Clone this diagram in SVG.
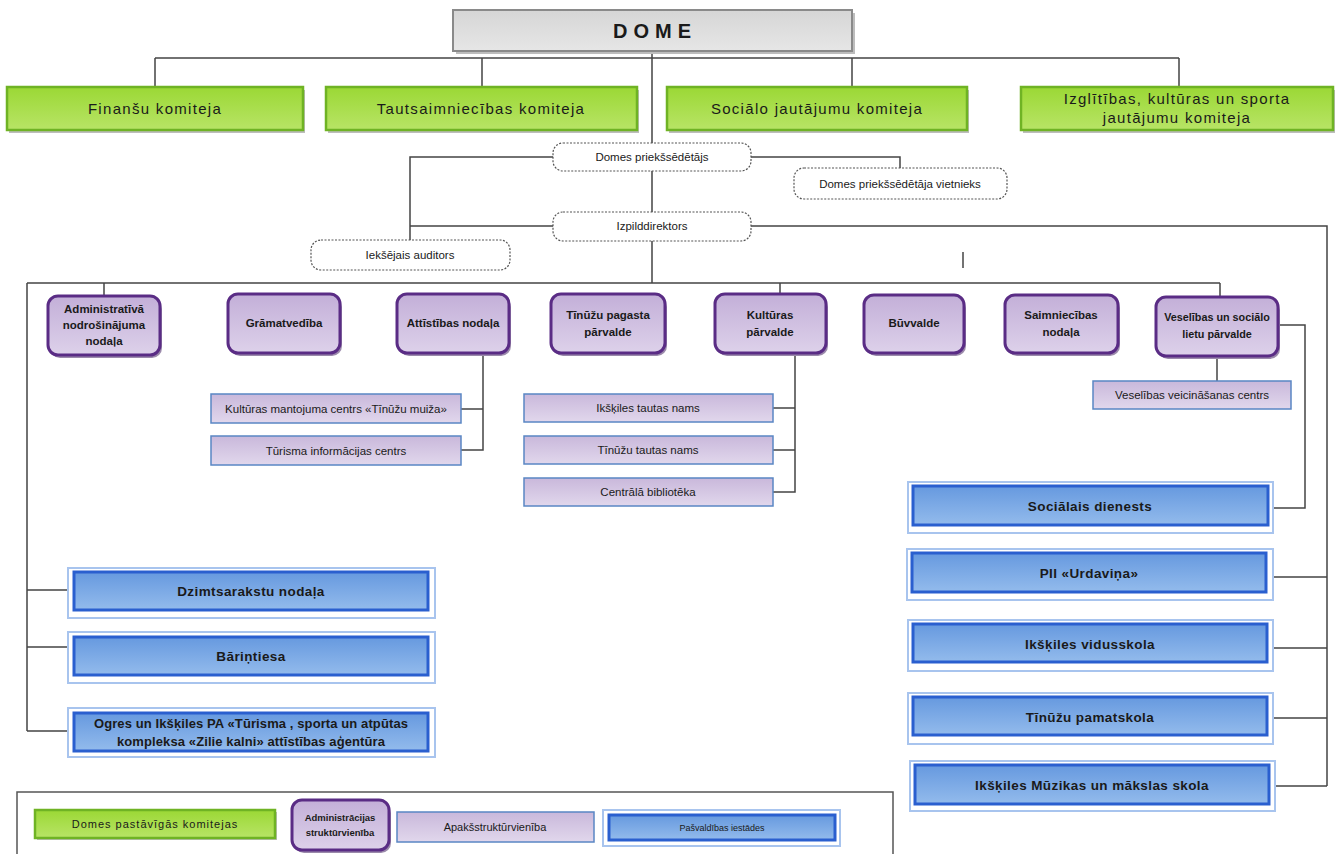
<svg xmlns="http://www.w3.org/2000/svg" width="1342" height="854" viewBox="0 0 1342 854">
<defs>
<linearGradient id="gGreen" x1="0" y1="0" x2="0" y2="1"><stop offset="0" stop-color="#9bd835"/><stop offset="1" stop-color="#b8e466"/></linearGradient>
<linearGradient id="gGrey" x1="0" y1="0" x2="0" y2="1"><stop offset="0" stop-color="#d6d6d6"/><stop offset="1" stop-color="#e6e6e6"/></linearGradient>
<linearGradient id="gPurple" x1="0" y1="0" x2="0" y2="1"><stop offset="0" stop-color="#c3afd8"/><stop offset="1" stop-color="#ddd1ea"/></linearGradient>
<linearGradient id="gSub" x1="0" y1="0" x2="0" y2="1"><stop offset="0" stop-color="#c9b8db"/><stop offset="1" stop-color="#e1d7ec"/></linearGradient>
<linearGradient id="gBlue" x1="0" y1="0" x2="0" y2="1"><stop offset="0" stop-color="#6699df"/><stop offset="1" stop-color="#93bbec"/></linearGradient>
<style>
.t{font-family:"Liberation Sans",Arial,sans-serif;fill:#1a1a1a;text-anchor:middle;dominant-baseline:central}
.dome{font-size:20px;font-weight:bold;letter-spacing:6px}
.com{font-size:15px;letter-spacing:1.3px}
.dash{font-size:11.5px}
.pur{font-size:11.5px;font-weight:bold}
.pur.sm{font-size:10.8px}
.sub{font-size:11.5px}
.blu{font-size:13.5px;font-weight:bold;letter-spacing:0.4px}
.blu.sm{font-size:13px;letter-spacing:0.1px}
.grey{fill:url(#gGrey);stroke:#8a8a8a;stroke-width:2}
.green{fill:url(#gGreen);stroke:#6fb324;stroke-width:2.5}
.shadow{fill:#bdbdbd}
.dbox{fill:#fff;stroke:#555;stroke-width:1.2;stroke-dasharray:2 1.5}
.pbox{fill:url(#gPurple);stroke:#5a2c85;stroke-width:3}
.pshadow{fill:#9b8aab}
.sbox{fill:url(#gSub);stroke:#5a86c4;stroke-width:1.5}
.bout{fill:#fff;stroke:#a8c4ee;stroke-width:2}
.bin{fill:url(#gBlue);stroke:#2a5fcf;stroke-width:3}
.ln{fill:none;stroke:#444;stroke-width:1.5}
</style>
</defs>

<g id="connectors">
<path class="ln" d="M652 51 V143 M155 58 H1179 M155 58 V87 M482 58 V87 M852 58 V87 M1179 58 V87"/>
<path class="ln" d="M553 157 H410 V240 M553 226 H410 M751 157 H900 V168"/>
<path class="ln" d="M652 171 V212 M652 241 V283"/>
<path class="ln" d="M751 226 H1327 V786 M1275 786 H1327 M1273 718 H1327 M1273 648 H1327 M1273 577 H1327"/>
<path class="ln" d="M963 252 V268"/>
<path class="ln" d="M27 283 H1220 M104 283 V296 M780 283 V294 M1220 283 V297"/>
<path class="ln" d="M27 283 V731 M27 590 H68 M27 647 H68 M27 731 H68"/>
<path class="ln" d="M483 353 V450 H461 M483 409 H461"/>
<path class="ln" d="M795 353 V492 H773 M795 408 H773 M795 450 H773"/>
<path class="ln" d="M1217 356 V381"/>
<path class="ln" d="M1278 325 H1305 V508 H1273"/>
</g>

<g id="dome">
<rect class="shadow" x="456" y="13" width="399" height="41"/>
<rect class="grey" x="453" y="10" width="399" height="41"/>
<text class="t dome" x="655" y="31">DOME</text>
</g>

<g id="kom-finansu">
<rect class="shadow" x="9" y="90" width="296" height="43"/>
<rect class="green" x="7" y="87" width="296" height="43"/>
<text class="t com" x="155" y="108">Finanšu komiteja</text>
</g>
<g id="kom-tautsaimn">
<rect class="shadow" x="328" y="90" width="311" height="43"/>
<rect class="green" x="326" y="87" width="311" height="43"/>
<text class="t com" x="481" y="108">Tautsaimniecības komiteja</text>
</g>
<g id="kom-social">
<rect class="shadow" x="669" y="90" width="300" height="43"/>
<rect class="green" x="667" y="87" width="300" height="43"/>
<text class="t com" x="817" y="108">Sociālo jautājumu komiteja</text>
</g>
<g id="kom-izglitibas">
<rect class="shadow" x="1023" y="90" width="312" height="43"/>
<rect class="green" x="1021" y="87" width="312" height="43"/>
<text class="t com" x="1177" y="98">Izglītības, kultūras un sporta</text>
<text class="t com" x="1177" y="117">jautājumu komiteja</text>
</g>

<g id="domes-priekssedetajs">
<rect class="dbox" x="553" y="143" width="198" height="28" rx="10"/>
<text class="t dash" x="652" y="157">Domes priekšsēdētājs</text>
</g>
<g id="vietnieks">
<rect class="dbox" x="794" y="168" width="213" height="31" rx="10"/>
<text class="t dash" x="900" y="184">Domes priekšsēdētāja vietnieks</text>
</g>
<g id="izpilddirektors">
<rect class="dbox" x="553" y="212" width="198" height="29" rx="10"/>
<text class="t dash" x="652" y="226">Izpilddirektors</text>
</g>
<g id="auditors">
<rect class="dbox" x="311" y="240" width="199" height="30" rx="10"/>
<text class="t dash" x="410" y="255">Iekšējais auditors</text>
</g>

<g id="administrativa">
<rect class="pshadow" x="50" y="299" width="112" height="59" rx="10"/>
<rect class="pbox" x="48" y="296" width="112" height="59" rx="10"/>
<text class="t pur" x="104" y="309">Administratīvā</text>
<text class="t pur" x="104" y="325">nodrošinājuma</text>
<text class="t pur" x="104" y="341">nodaļa</text>
</g>
<g id="gramatvediba">
<rect class="pshadow" x="230" y="297" width="112" height="59" rx="10"/>
<rect class="pbox" x="228" y="294" width="112" height="59" rx="10"/>
<text class="t pur" x="284" y="323">Grāmatvedība</text>
</g>
<g id="attistibas">
<rect class="pshadow" x="399" y="297" width="112" height="59" rx="10"/>
<rect class="pbox" x="397" y="294" width="112" height="59" rx="10"/>
<text class="t pur" x="453" y="323">Attīstības nodaļa</text>
</g>
<g id="tinuzu-pagasta">
<rect class="pshadow" x="553" y="297" width="114" height="59" rx="10"/>
<rect class="pbox" x="551" y="294" width="114" height="59" rx="10"/>
<text class="t pur" x="608" y="315">Tīnūžu pagasta</text>
<text class="t pur" x="608" y="332">pārvalde</text>
</g>
<g id="kulturas-parvalde">
<rect class="pshadow" x="717" y="297" width="111" height="59" rx="10"/>
<rect class="pbox" x="715" y="294" width="111" height="59" rx="10"/>
<text class="t pur" x="770" y="315">Kultūras</text>
<text class="t pur" x="770" y="332">pārvalde</text>
</g>
<g id="buvvalde">
<rect class="pshadow" x="866" y="298" width="100" height="58" rx="10"/>
<rect class="pbox" x="864" y="295" width="100" height="58" rx="10"/>
<text class="t pur" x="914" y="323">Būvvalde</text>
</g>
<g id="saimniecibas">
<rect class="pshadow" x="1007" y="298" width="113" height="58" rx="10"/>
<rect class="pbox" x="1005" y="295" width="113" height="58" rx="10"/>
<text class="t pur" x="1061" y="315">Saimniecības</text>
<text class="t pur" x="1061" y="332">nodaļa</text>
</g>
<g id="veselibas">
<rect class="pshadow" x="1158" y="300" width="122" height="59" rx="10"/>
<rect class="pbox" x="1156" y="297" width="122" height="59" rx="10"/>
<text class="t pur sm" x="1217" y="317">Veselības un sociālo</text>
<text class="t pur sm" x="1217" y="334">lietu pārvalde</text>
</g>

<g id="kulturas-mantojuma">
<rect class="sbox" x="211" y="394" width="250" height="29"/>
<text class="t sub" x="336" y="409">Kultūras mantojuma centrs «Tīnūžu muiža»</text>
</g>
<g id="turisma">
<rect class="sbox" x="211" y="436" width="250" height="29"/>
<text class="t sub" x="336" y="451">Tūrisma informācijas centrs</text>
</g>
<g id="ikskiles-tn">
<rect class="sbox" x="524" y="394" width="249" height="28"/>
<text class="t sub" x="648" y="408">Ikšķiles tautas nams</text>
</g>
<g id="tinuzu-tn">
<rect class="sbox" x="524" y="436" width="249" height="28"/>
<text class="t sub" x="648" y="450">Tīnūžu tautas nams</text>
</g>
<g id="biblioteka">
<rect class="sbox" x="524" y="478" width="249" height="28"/>
<text class="t sub" x="648" y="492">Centrālā bibliotēka</text>
</g>
<g id="veselibas-centrs">
<rect class="sbox" x="1093" y="381" width="198" height="28"/>
<text class="t sub" x="1192" y="395">Veselības veicināšanas centrs</text>
</g>

<g id="dzimtsarakstu">
<rect class="bout" x="68" y="568" width="367" height="50"/>
<rect class="bin" x="74" y="572" width="354" height="38"/>
<text class="t blu" x="251" y="591">Dzimtsarakstu nodaļa</text>
</g>
<g id="barintiesa">
<rect class="bout" x="68" y="632" width="367" height="51"/>
<rect class="bin" x="74" y="637" width="354" height="38"/>
<text class="t blu" x="251" y="656">Bāriņtiesa</text>
</g>
<g id="zilie-kalni">
<rect class="bout" x="68" y="708" width="367" height="49"/>
<rect class="bin" x="74" y="713" width="354" height="38"/>
<text class="t blu sm" x="251" y="723">Ogres un Ikšķiles PA «Tūrisma , sporta un atpūtas</text>
<text class="t blu sm" x="251" y="741">kompleksa «Zilie kalni» attīstības aģentūra</text>
</g>

<g id="socialais">
<rect class="bout" x="908" y="482" width="365" height="51"/>
<rect class="bin" x="913" y="486" width="355" height="39"/>
<text class="t blu" x="1090" y="506">Sociālais dienests</text>
</g>
<g id="urdavina">
<rect class="bout" x="907" y="549" width="366" height="51"/>
<rect class="bin" x="912" y="553" width="354" height="39"/>
<text class="t blu" x="1089" y="573">PII «Urdaviņa»</text>
</g>
<g id="vidusskola">
<rect class="bout" x="908" y="620" width="365" height="51"/>
<rect class="bin" x="913" y="624" width="354" height="38"/>
<text class="t blu" x="1090" y="644">Ikšķiles vidusskola</text>
</g>
<g id="pamatskola">
<rect class="bout" x="908" y="693" width="365" height="51"/>
<rect class="bin" x="913" y="697" width="354" height="38"/>
<text class="t blu" x="1090" y="717">Tīnūžu pamatskola</text>
</g>
<g id="muzikas">
<rect class="bout" x="910" y="761" width="365" height="50"/>
<rect class="bin" x="915" y="765" width="354" height="39"/>
<text class="t blu" x="1092" y="785">Ikšķiles Mūzikas un mākslas skola</text>
</g>

<g id="legend">
<rect x="17" y="792" width="876" height="70" fill="#fff" stroke="#555" stroke-width="1.5"/>
<rect class="shadow" x="37" y="812" width="240" height="28"/>
<rect class="green" x="35" y="810" width="240" height="28"/>
<text class="t" x="155" y="824" style="font-size:11px;letter-spacing:1px">Domes pastāvīgās komitejas</text>
<rect class="pshadow" x="294" y="803" width="97" height="50" rx="10"/>
<rect class="pbox" x="292" y="800" width="97" height="50" rx="10"/>
<text class="t" x="340" y="817" style="font-size:9.5px;font-weight:bold">Administrācijas</text>
<text class="t" x="340" y="832" style="font-size:9.5px;font-weight:bold">struktūrvienība</text>
<rect class="sbox" x="397" y="812" width="197" height="30"/>
<text class="t" x="495" y="827" style="font-size:11px">Apakšstruktūrvienība</text>
<rect class="bout" x="603" y="810" width="237" height="36"/>
<rect class="bin" x="609" y="815" width="226" height="25"/>
<text class="t" x="722" y="828" style="font-size:9px">Pašvaldības iestādes</text>
</g>
</svg>
